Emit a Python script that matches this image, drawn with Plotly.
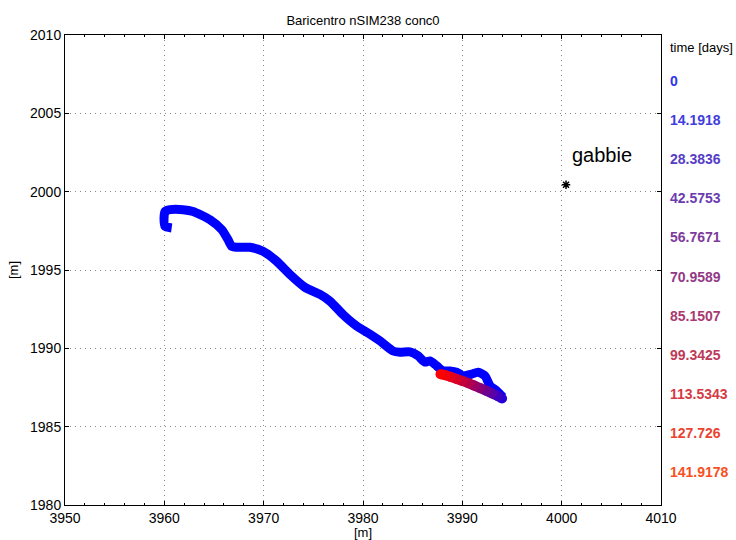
import plotly.graph_objects as go
from plotly.colors import sample_colorscale

# ---- data ----
# outbound path (early times, all blue)
path_x = [3960.74, 3960.07, 3959.97, 3960.07, 3960.57, 3961.88, 3962.89, 3964.60, 3965.78,
          3966.41, 3966.78, 3967.29, 3968.62, 3969.93, 3971.31, 3972.65, 3974.16, 3975.67,
          3976.68, 3977.98, 3979.37, 3980.71, 3981.71, 3983.02, 3983.73, 3984.73, 3985.54,
          3986.24, 3986.75, 3987.42, 3988.06, 3988.76, 3989.43, 3990.07, 3990.94, 3991.58,
          3992.28, 3992.79, 3993.46, 3994.09]
path_y = [1997.68, 1997.79, 1998.34, 1998.74, 1998.85, 1998.85, 1998.74, 1998.21, 1997.58,
          1996.94, 1996.51, 1996.45, 1996.45, 1996.20, 1995.56, 1994.71, 1993.89, 1993.44,
          1993.01, 1992.16, 1991.42, 1990.90, 1990.47, 1989.83, 1989.75, 1989.77, 1989.52,
          1989.12, 1989.20, 1988.88, 1988.56, 1988.56, 1988.48, 1988.24, 1988.35, 1988.48,
          1988.24, 1987.61, 1987.29, 1986.89]

# return path (later times, coloured by time)
ret_x = [3994.0, 3993.6, 3993.0, 3992.4, 3991.8, 3991.2, 3990.6, 3990.0, 3989.4, 3988.8, 3988.3, 3987.8]
ret_y = [1986.80, 1986.95, 1987.12, 1987.30, 1987.46, 1987.62, 1987.78, 1987.92, 1988.05, 1988.18, 1988.28, 1988.35]
ret_t = [20, 35, 50, 62, 75, 88, 100, 110, 120, 128, 135, 141.9178]

cage_x = [4000.44]
cage_y = [2000.44]
cage_label = "gabbie"

legend_times = ["0", "14.1918", "28.3836", "42.5753", "56.7671", "70.9589",
                "85.1507", "99.3425", "113.5343", "127.726", "141.9178"]
legend_colors = ["#2e35ea", "#3f3ddc", "#553dc6", "#6a3cb0", "#7e3b9c", "#923a86",
                 "#a83a70", "#bd3a58", "#d53a44", "#ea4330", "#f94f1e"]

t_max = 141.9178
cscale = [[0, "rgb(0,0,255)"], [1, "rgb(255,0,0)"]]

fig = go.Figure()

fig.add_trace(go.Scatter(x=path_x, y=path_y, mode="lines",
                         line=dict(color="#0000ff", width=9, shape="spline", smoothing=0.6),
                         hoverinfo="skip", showlegend=False))

for i in range(len(ret_x) - 1):
    tm = (ret_t[i] + ret_t[i + 1]) / 2 / t_max
    col = sample_colorscale(cscale, [tm])[0]
    fig.add_trace(go.Scatter(x=ret_x[i:i + 2], y=ret_y[i:i + 2], mode="lines",
                             line=dict(color=col, width=10),
                             hoverinfo="skip", showlegend=False))

fig.add_trace(go.Scatter(x=ret_x, y=ret_y, mode="markers",
                         marker=dict(size=10, color=ret_t, colorscale=cscale, cmin=0, cmax=t_max,
                                     line=dict(width=0)),
                         showlegend=False))

fig.add_trace(go.Scatter(x=cage_x, y=cage_y, mode="markers",
                         marker=dict(symbol="asterisk-open", size=7, color="black",
                                     line=dict(color="black", width=1.5)),
                         showlegend=False))

fig.add_annotation(x=cage_x[0] + 0.35, y=cage_y[0] + 1.9, text=cage_label, showarrow=False,
                   xanchor="left", yanchor="middle", font=dict(size=20, color="black"))

# colour key on the right
fig.add_annotation(xref="paper", yref="paper", x=1.012, y=(505 - 47) / 470,
                   text="time [days]", showarrow=False, xanchor="left", yanchor="middle",
                   font=dict(size=13, color="black"))
for i, (lab, col) in enumerate(zip(legend_times, legend_colors)):
    py = 81 + i * 39.1
    fig.add_annotation(xref="paper", yref="paper", x=1.012, y=(505 - py) / 470,
                       text="<b>" + lab + "</b>", showarrow=False, xanchor="left",
                       yanchor="middle", font=dict(size=14, color=col))

axis_common = dict(showline=True, linecolor="black", linewidth=1, mirror="ticks",
                   ticks="inside", ticklen=4, tickcolor="black", automargin=False,
                   showgrid=True, gridcolor="#8a8a8a", griddash="1px,4px", gridwidth=1,
                   zeroline=False, tickfont=dict(size=14, color="black"))

fig.update_xaxes(range=[3950, 4010], dtick=10, tick0=3950,
                 title=dict(text="[m]", font=dict(size=13, color="black"), standoff=8),
                 minor=dict(ticks="inside", ticklen=2, dtick=2, tickcolor="black", showgrid=False),
                 **axis_common)
fig.update_yaxes(range=[1980, 2010], dtick=5, tick0=1980,
                 title=dict(text="[m]", font=dict(size=13, color="black"), standoff=8),
                 **axis_common)

fig.update_layout(width=736, height=540,
                  margin=dict(l=65, r=75, t=35, b=35),
                  paper_bgcolor="white", plot_bgcolor="white",
                  font=dict(family="Liberation Sans, Arial, Helvetica, sans-serif", color="black"),
                  title=dict(text="Baricentro nSIM238 conc0", x=0.5, xref="paper",
                             y=1 - 20 / 540, yanchor="middle",
                             font=dict(size=13, color="black")),
                  showlegend=False)

fig.write_html("out.html", config={"displayModeBar": False},
               post_script="document.body.style.margin='0';document.body.style.padding='0';")
